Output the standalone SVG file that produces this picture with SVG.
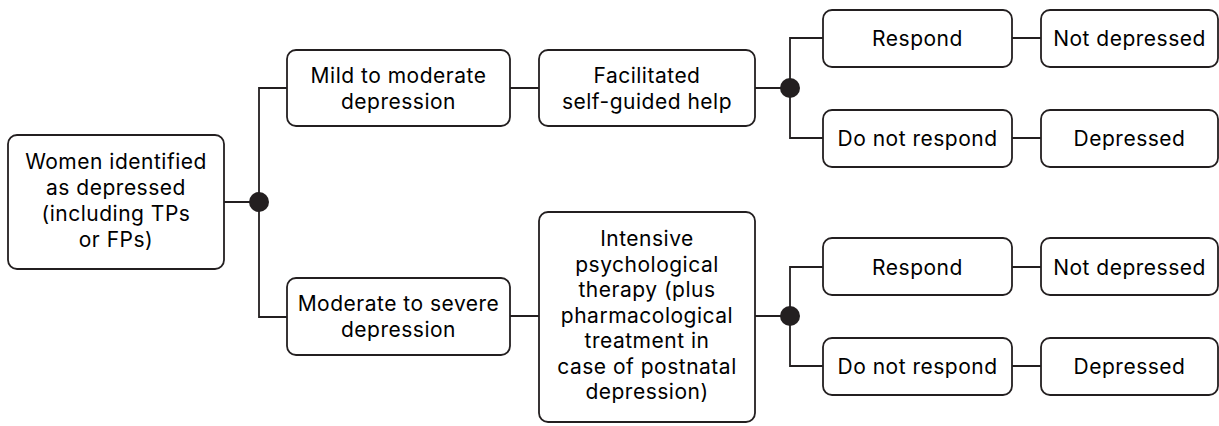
<svg xmlns="http://www.w3.org/2000/svg" width="1219" height="426" viewBox="0 0 1219 426">
<style>
.box{fill:#fff;stroke:#231f20;stroke-width:1.8}
.t{font-family:Inter,"Liberation Sans",sans-serif;font-size:21px;letter-spacing:0.5px;fill:#000;text-anchor:middle}
.c{fill:none;stroke:#231f20;stroke-width:1.8}
.dot{fill:#231f20}
</style>
<rect width="1219" height="426" fill="#fff"/>
<g id="connectors">
<path class="c" d="M224,202 H259 M287,88 H259 V317 H287"/>
<path class="c" d="M510,88 H539 M755,88 H790 M823,38 H790 V138 H823"/>
<path class="c" d="M510,316 H539 M755,316 H790 M823,267 H790 V366 H823"/>
<path class="c" d="M1012,38 H1041 M1012,138 H1041 M1012,267 H1041 M1012,366 H1041"/>
<circle class="dot" cx="259" cy="202" r="10"/>
<circle class="dot" cx="790" cy="88" r="10"/>
<circle class="dot" cx="790" cy="316" r="10"/>
</g>
<g id="women">
<rect class="box" x="8" y="135" width="216" height="134" rx="9"/>
<text class="t" x="116" y="169">Women identified</text>
<text class="t" x="116" y="195">as depressed</text>
<text class="t" x="116" y="221">(including TPs</text>
<text class="t" x="116" y="247">or FPs)</text>
</g>
<g id="mild">
<rect class="box" x="287" y="50" width="223" height="76" rx="9"/>
<text class="t" x="398.5" y="83">Mild to moderate</text>
<text class="t" x="398.5" y="109">depression</text>
</g>
<g id="facilitated">
<rect class="box" x="539" y="50" width="216" height="76" rx="9"/>
<text class="t" x="647" y="83">Facilitated</text>
<text class="t" x="647" y="109">self-guided help</text>
</g>
<g id="respond1">
<rect class="box" x="823" y="10" width="189" height="57" rx="9"/>
<text class="t" x="917.5" y="46">Respond</text>
</g>
<g id="notdep1">
<rect class="box" x="1041" y="10" width="177" height="57" rx="9"/>
<text class="t" x="1129.5" y="46">Not depressed</text>
</g>
<g id="norespond1">
<rect class="box" x="823" y="110" width="189" height="57" rx="9"/>
<text class="t" x="917.5" y="146">Do not respond</text>
</g>
<g id="dep1">
<rect class="box" x="1041" y="110" width="177" height="57" rx="9"/>
<text class="t" x="1129.5" y="146">Depressed</text>
</g>
<g id="moderate">
<rect class="box" x="287" y="278" width="223" height="77" rx="9"/>
<text class="t" x="398.5" y="311">Moderate to severe</text>
<text class="t" x="398.5" y="337">depression</text>
</g>
<g id="intensive">
<rect class="box" x="539" y="212" width="216" height="210" rx="9"/>
<text class="t" x="647" y="246">Intensive</text>
<text class="t" x="647" y="271.5">psychological</text>
<text class="t" x="647" y="297">therapy (plus</text>
<text class="t" x="647" y="322.5">pharmacological</text>
<text class="t" x="647" y="348">treatment in</text>
<text class="t" x="647" y="373.5">case of postnatal</text>
<text class="t" x="647" y="399">depression)</text>
</g>
<g id="respond2">
<rect class="box" x="823" y="238" width="189" height="57" rx="9"/>
<text class="t" x="917.5" y="275">Respond</text>
</g>
<g id="notdep2">
<rect class="box" x="1041" y="238" width="177" height="57" rx="9"/>
<text class="t" x="1129.5" y="275">Not depressed</text>
</g>
<g id="norespond2">
<rect class="box" x="823" y="338" width="189" height="57" rx="9"/>
<text class="t" x="917.5" y="374">Do not respond</text>
</g>
<g id="dep2">
<rect class="box" x="1041" y="338" width="177" height="57" rx="9"/>
<text class="t" x="1129.5" y="374">Depressed</text>
</g>
</svg>
